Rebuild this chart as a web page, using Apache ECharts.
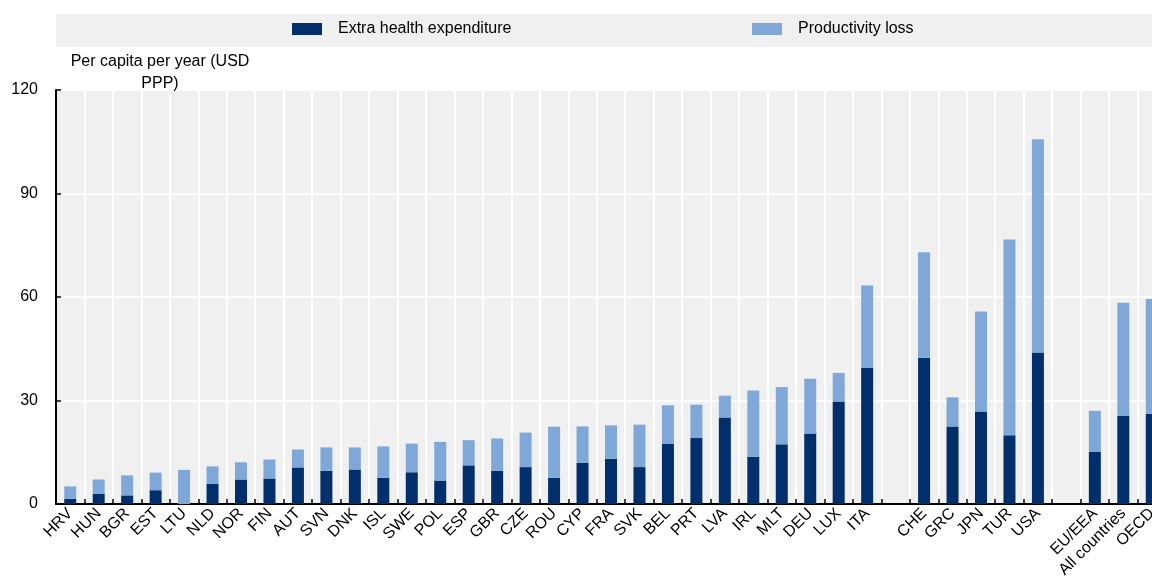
<!DOCTYPE html>
<html>
<head>
<meta charset="utf-8">
<script src="https://cdn.jsdelivr.net/npm/echarts@6/dist/echarts.min.js"></script>
<style>
  html, body { margin: 0; padding: 0; background: #fff; }
  #main { width: 1152px; height: 580px; }
</style>
</head>
<body>
<div id="main"></div>
<script>
const categories = ['HRV', 'HUN', 'BGR', 'EST', 'LTU', 'NLD', 'NOR', 'FIN', 'AUT', 'SVN', 'DNK', 'ISL', 'SWE', 'POL', 'ESP', 'GBR', 'CZE', 'ROU', 'CYP', 'FRA', 'SVK', 'BEL', 'PRT', 'LVA', 'IRL', 'MLT', 'DEU', 'LUX', 'ITA', ' ', 'CHE', 'GRC', 'JPN', 'TUR', 'USA', '  ', 'EU/EEA', 'All countries', 'OECD']

const healthExpenditure = [1.5, 3.0, 2.5, 4.0, 0, 5.9, 7.1, 7.4, 10.6, 9.6, 10.0, 7.6, 9.2, 6.8, 11.2, 9.6, 10.7, 7.6, 11.9, 13.1, 10.7, 17.5, 19.1, 25.1, 13.7, 17.3, 20.4, 29.7, 39.5, null, 42.4, 22.5, 26.8, 19.9, 43.9, null, 15.2, 25.6, 26.1]
const productivityLoss = [3.6, 4.1, 5.8, 5.1, 9.9, 5.0, 5.0, 5.5, 5.2, 6.8, 6.4, 9.1, 8.3, 11.2, 7.3, 9.4, 10.0, 14.8, 10.6, 9.7, 12.3, 11.1, 9.7, 6.3, 19.2, 16.6, 15.9, 8.3, 23.8, null, 30.6, 8.4, 29.0, 56.8, 61.8, null, 11.8, 32.7, 33.3]

const yTicks = [0, 30, 60, 90, 120]

const font = "'Liberation Sans', Arial, sans-serif"
const chart = echarts.init(document.getElementById('main'))

const option = {
  animation: false,
  color: ['#002f6c', '#7fa8d9'],
  textStyle: { fontFamily: font, color: '#000' },
  graphic: [
    {
      type: 'rect',
      shape: { x: 56, y: 14, width: 1096, height: 33 },
      style: { fill: '#f0f0f0' },
      z: -10
    },
    {
      type: 'text',
      x: 160,
      y: 51,
      z: 100,
      style: {
        text: 'Per capita per year (USD\nPPP)',
        align: 'center',
        fontSize: 16,
        lineHeight: 22,
        fontFamily: font,
        fill: '#000'
      }
    }
  ],
  legend: [
    {
      data: ['Extra health expenditure'],
      left: 292,
      top: 21,
      padding: 0,
      icon: 'rect',
      itemWidth: 30,
      itemHeight: 12,
      selectedMode: false,
      textStyle: { fontSize: 16, fontFamily: font, color: '#000', padding: [0, 0, 0, 11] }
    },
    {
      data: ['Productivity loss'],
      left: 752,
      top: 21,
      padding: 0,
      icon: 'rect',
      itemWidth: 30,
      itemHeight: 12,
      selectedMode: false,
      textStyle: { fontSize: 16, fontFamily: font, color: '#000', padding: [0, 0, 0, 11] }
    }
  ],
  grid: {
    left: 56,
    top: 90,
    bottom: 76,
    width: 1110,
    outerBoundsMode: 'none',
    show: true,
    backgroundColor: '#f0f0f0',
    borderWidth: 0
  },
  xAxis: {
    type: 'category',
    data: categories,
    axisLine: { lineStyle: { color: '#000', width: 2 } },
    axisTick: { show: true, inside: true, length: 5, lineStyle: { color: '#000', width: 1.5 } },
    splitLine: { show: true, lineStyle: { color: '#fff', width: 2 } },
    axisLabel: {
      interval: 0,
      rotate: 45,
      margin: 7,
      fontSize: 16,
      fontFamily: font,
      color: '#000'
    }
  },
  yAxis: {
    type: 'value',
    min: yTicks[0],
    max: yTicks[yTicks.length - 1],
    interval: yTicks[1] - yTicks[0],
    axisLine: { show: true, lineStyle: { color: '#000', width: 2 } },
    axisTick: { show: true, inside: true, length: 5, lineStyle: { color: '#000', width: 1.5 } },
    splitLine: { show: true, lineStyle: { color: '#fff', width: 2 } },
    axisLabel: { margin: 18, fontSize: 16, fontFamily: font, color: '#000' }
  },
  series: [
    {
      name: 'Extra health expenditure',
      type: 'bar',
      stack: 'total',
      barWidth: 12,
      data: healthExpenditure
    },
    {
      name: 'Productivity loss',
      type: 'bar',
      stack: 'total',
      barWidth: 12,
      data: productivityLoss
    }
  ]
}

chart.setOption(option)
</script>
</body>
</html>
